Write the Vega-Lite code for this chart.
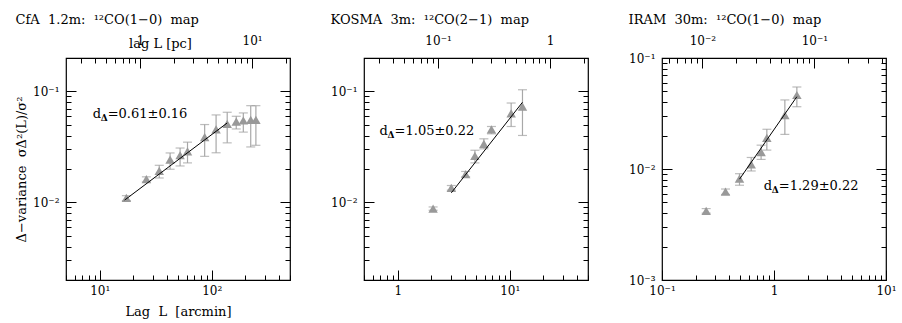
{
  "$schema": "https://vega.github.io/schema/vega-lite/v6.json",
  "background": "white",
  "padding": {"left": 14, "top": 13, "right": 5, "bottom": 5},
  "datasets": {
    "p1": [
      {"x": 17.3, "y": 0.0110, "lo": 0.0104, "hi": 0.0115},
      {"x": 26.1, "y": 0.0162, "lo": 0.0153, "hi": 0.0170},
      {"x": 34.0, "y": 0.0192, "lo": 0.0166, "hi": 0.0216},
      {"x": 42.5, "y": 0.0243, "lo": 0.0199, "hi": 0.0279},
      {"x": 52.2, "y": 0.0266, "lo": 0.0213, "hi": 0.0309},
      {"x": 60.8, "y": 0.0288, "lo": 0.0227, "hi": 0.0349},
      {"x": 86.5, "y": 0.0387, "lo": 0.0260, "hi": 0.0503},
      {"x": 109.4, "y": 0.0454, "lo": 0.0280, "hi": 0.0614},
      {"x": 137.5, "y": 0.0509, "lo": 0.0344, "hi": 0.0649},
      {"x": 165.6, "y": 0.0535, "lo": 0.0459, "hi": 0.0597},
      {"x": 191.5, "y": 0.0547, "lo": 0.0430, "hi": 0.0640},
      {"x": 223, "y": 0.0554, "lo": 0.0316, "hi": 0.0744},
      {"x": 248, "y": 0.0554, "lo": 0.0327, "hi": 0.0744}
    ],
    "l1": [{"x": 16.7, "y": 0.0105}, {"x": 137.5, "y": 0.052}],
    "a1": [{"x": 8.65, "y": 0.0622, "v": "=0.61±0.16"}],
    "p2": [
      {"x": 2.07, "y": 0.0088, "lo": 0.0085, "hi": 0.0091},
      {"x": 3.01, "y": 0.01355, "lo": 0.0129, "hi": 0.0142},
      {"x": 4.04, "y": 0.0180, "lo": 0.0170, "hi": 0.0190},
      {"x": 4.89, "y": 0.0262, "lo": 0.0227, "hi": 0.0295},
      {"x": 5.88, "y": 0.0337, "lo": 0.0304, "hi": 0.0374},
      {"x": 6.87, "y": 0.0454, "lo": 0.0415, "hi": 0.0483},
      {"x": 10.3, "y": 0.0635, "lo": 0.0483, "hi": 0.0786},
      {"x": 13.0, "y": 0.0729, "lo": 0.0401, "hi": 0.1035}
    ],
    "l2": [{"x": 3.01, "y": 0.0122}, {"x": 13.0, "y": 0.0798}],
    "a2": [{"x": 0.689, "y": 0.0444, "v": "=1.05±0.22"}],
    "p3": [
      {"x": 0.248, "y": 0.0042, "lo": 0.0040, "hi": 0.0044},
      {"x": 0.369, "y": 0.00625, "lo": 0.0059, "hi": 0.0066},
      {"x": 0.492, "y": 0.00818, "lo": 0.00714, "hi": 0.00907},
      {"x": 0.626, "y": 0.0110, "lo": 0.0096, "hi": 0.0127},
      {"x": 0.767, "y": 0.0142, "lo": 0.0122, "hi": 0.0164},
      {"x": 0.863, "y": 0.0191, "lo": 0.0148, "hi": 0.0228},
      {"x": 1.25, "y": 0.0306, "lo": 0.0205, "hi": 0.0419},
      {"x": 1.60, "y": 0.0464, "lo": 0.0364, "hi": 0.0548}
    ],
    "l3": [{"x": 0.492, "y": 0.0081}, {"x": 1.60, "y": 0.0448}],
    "a3": [{"x": 0.811, "y": 0.00703, "v": "=1.29±0.22"}]
  },
  "hconcat": [
    {
      "width": 224, "height": 222,
      "title": {"text": "CfA\u00a0 1.2m:\u00a0 ¹²CO(1−0)\u00a0 map", "anchor": "start", "offset": 2},
      "layer": [
        {
          "data": {"name": "p1"},
          "encoding": {
            "x": {"field": "x", "type": "quantitative", "scale": {"type": "log", "domain": [5, 500], "nice": false},
              "axis": {"orient": "bottom", "values": [5,6,7,8,9,10,20,30,40,50,60,70,80,90,100,200,300,400,500],
                "labelExpr": "abs(log(datum.value)/LN10 - round(log(datum.value)/LN10)) > 0.01 ? '' : round(log(datum.value)/LN10) == -3 ? '10⁻³' : round(log(datum.value)/LN10) == -2 ? '10⁻²' : round(log(datum.value)/LN10) == -1 ? '10⁻¹' : round(log(datum.value)/LN10) == 0 ? '1' : round(log(datum.value)/LN10) == 1 ? '10¹' : round(log(datum.value)/LN10) == 2 ? '10²' : ''",
                "tickSize": {"condition": {"test": "abs(log(datum.value)/LN10 - round(log(datum.value)/LN10)) < 0.01", "value": -10}, "value": -5},
                "labelPadding": 15, "title": "Lag\u00a0 L\u00a0 [arcmin]", "titlePadding": 4}},
            "y": {"field": "y", "type": "quantitative", "scale": {"type": "log", "domain": [0.002, 0.2], "nice": false},
              "axis": {"orient": "left", "values": [0.002,0.003,0.004,0.005,0.006,0.007,0.008,0.009,0.01,0.02,0.03,0.04,0.05,0.06,0.07,0.08,0.09,0.1,0.2],
                "labelExpr": "abs(log(datum.value)/LN10 - round(log(datum.value)/LN10)) > 0.01 ? '' : round(log(datum.value)/LN10) == -3 ? '10⁻³' : round(log(datum.value)/LN10) == -2 ? '10⁻²' : round(log(datum.value)/LN10) == -1 ? '10⁻¹' : round(log(datum.value)/LN10) == 0 ? '1' : round(log(datum.value)/LN10) == 1 ? '10¹' : round(log(datum.value)/LN10) == 2 ? '10²' : ''",
                "tickSize": {"condition": {"test": "abs(log(datum.value)/LN10 - round(log(datum.value)/LN10)) < 0.01", "value": -10}, "value": -5},
                "labelPadding": 17, "title": "Δ−variance\u00a0 σΔ²(L)/σ²", "titlePadding": 4}}
          },
          "layer": [
            {"mark": {"type": "rule", "color": "#a8a8a8", "strokeWidth": 1.2},
             "encoding": {"y": {"field": "lo", "type": "quantitative", "scale": {"type": "log", "domain": [0.002, 0.2], "nice": false}}, "y2": {"field": "hi"}}},
            {"mark": {"type": "tick", "orient": "horizontal", "color": "#a0a0a0", "size": 9, "thickness": 1.2},
             "encoding": {"y": {"field": "lo", "type": "quantitative", "scale": {"type": "log", "domain": [0.002, 0.2], "nice": false}}}},
            {"mark": {"type": "tick", "orient": "horizontal", "color": "#a0a0a0", "size": 9, "thickness": 1.2},
             "encoding": {"y": {"field": "hi", "type": "quantitative", "scale": {"type": "log", "domain": [0.002, 0.2], "nice": false}}}},
            {"mark": {"type": "point", "shape": "triangle-up", "filled": true, "color": "#999999", "size": 90, "opacity": 1}},
            {"data": {"name": "l1"}, "mark": {"type": "line", "color": "black", "strokeWidth": 1}},
            {"data": {"name": "a1"}, "mark": {"type": "text", "align": "left", "baseline": "middle", "fontSize": 13, "font": "DejaVu Serif", "color": "black"}, "encoding": {"text": {"value": "d"}}},
            {"data": {"name": "a1"}, "mark": {"type": "text", "align": "left", "baseline": "middle", "fontSize": 9, "font": "DejaVu Serif", "fontWeight": "bold", "color": "black", "dx": 8, "dy": 4}, "encoding": {"text": {"value": "Δ"}}},
            {"data": {"name": "a1"}, "mark": {"type": "text", "align": "left", "baseline": "middle", "fontSize": 13, "font": "DejaVu Serif", "color": "black", "dx": 15}, "encoding": {"text": {"field": "v"}}}
          ]
        },
        {
          "data": {"values": [{}]},
          "mark": {"type": "point", "opacity": 0},
          "encoding": {
            "x": {"datum": 1, "type": "quantitative", "scale": {"type": "log", "domain": [0.21815, 21.815], "nice": false},
              "axis": {"orient": "top", "values": [0.3,0.4,0.5,0.6,0.7,0.8,0.9,1,2,3,4,5,6,7,8,9,10,20],
                "labelExpr": "abs(log(datum.value)/LN10 - round(log(datum.value)/LN10)) > 0.01 ? '' : round(log(datum.value)/LN10) == -3 ? '10⁻³' : round(log(datum.value)/LN10) == -2 ? '10⁻²' : round(log(datum.value)/LN10) == -1 ? '10⁻¹' : round(log(datum.value)/LN10) == 0 ? '1' : round(log(datum.value)/LN10) == 1 ? '10¹' : round(log(datum.value)/LN10) == 2 ? '10²' : ''",
                "tickSize": {"condition": {"test": "abs(log(datum.value)/LN10 - round(log(datum.value)/LN10)) < 0.01", "value": -10}, "value": -5},
                "labelPadding": 21, "title": "lag L [pc]", "titleX": 94, "titleY": -15, "titleBaseline": "middle", "titleAlign": "center"}},
            "y": {"datum": 0.01, "type": "quantitative", "scale": {"type": "log", "domain": [0.002, 0.2], "nice": false},
              "axis": {"orient": "right", "values": [0.002,0.003,0.004,0.005,0.006,0.007,0.008,0.009,0.01,0.02,0.03,0.04,0.05,0.06,0.07,0.08,0.09,0.1,0.2],
                "labels": false, "title": null,
                "tickSize": {"condition": {"test": "abs(log(datum.value)/LN10 - round(log(datum.value)/LN10)) < 0.01", "value": -10}, "value": -5}}}
          }
        }
      ],
      "resolve": {"scale": {"x": "independent", "y": "independent"}, "axis": {"x": "independent", "y": "independent"}}
    },
    {
      "width": 224, "height": 222,
      "title": {"text": "KOSMA\u00a0 3m:\u00a0 ¹²CO(2−1)\u00a0 map", "anchor": "start", "offset": 2},
      "layer": [
        {
          "data": {"name": "p2"},
          "encoding": {
            "x": {"field": "x", "type": "quantitative", "scale": {"type": "log", "domain": [0.5, 50], "nice": false},
              "axis": {"orient": "bottom", "values": [0.5,0.6,0.7,0.8,0.9,1,2,3,4,5,6,7,8,9,10,20,30,40,50],
                "labelExpr": "abs(log(datum.value)/LN10 - round(log(datum.value)/LN10)) > 0.01 ? '' : round(log(datum.value)/LN10) == -3 ? '10⁻³' : round(log(datum.value)/LN10) == -2 ? '10⁻²' : round(log(datum.value)/LN10) == -1 ? '10⁻¹' : round(log(datum.value)/LN10) == 0 ? '1' : round(log(datum.value)/LN10) == 1 ? '10¹' : round(log(datum.value)/LN10) == 2 ? '10²' : ''",
                "tickSize": {"condition": {"test": "abs(log(datum.value)/LN10 - round(log(datum.value)/LN10)) < 0.01", "value": -10}, "value": -5},
                "labelPadding": 15, "title": null}},
            "y": {"field": "y", "type": "quantitative", "scale": {"type": "log", "domain": [0.002, 0.2], "nice": false},
              "axis": {"orient": "left", "values": [0.002,0.003,0.004,0.005,0.006,0.007,0.008,0.009,0.01,0.02,0.03,0.04,0.05,0.06,0.07,0.08,0.09,0.1,0.2],
                "labelExpr": "abs(log(datum.value)/LN10 - round(log(datum.value)/LN10)) > 0.01 ? '' : round(log(datum.value)/LN10) == -3 ? '10⁻³' : round(log(datum.value)/LN10) == -2 ? '10⁻²' : round(log(datum.value)/LN10) == -1 ? '10⁻¹' : round(log(datum.value)/LN10) == 0 ? '1' : round(log(datum.value)/LN10) == 1 ? '10¹' : round(log(datum.value)/LN10) == 2 ? '10²' : ''",
                "tickSize": {"condition": {"test": "abs(log(datum.value)/LN10 - round(log(datum.value)/LN10)) < 0.01", "value": -10}, "value": -5},
                "labelPadding": 17, "title": null}}
          },
          "layer": [
            {"mark": {"type": "rule", "color": "#a8a8a8", "strokeWidth": 1.2},
             "encoding": {"y": {"field": "lo", "type": "quantitative", "scale": {"type": "log", "domain": [0.002, 0.2], "nice": false}}, "y2": {"field": "hi"}}},
            {"mark": {"type": "tick", "orient": "horizontal", "color": "#a0a0a0", "size": 9, "thickness": 1.2},
             "encoding": {"y": {"field": "lo", "type": "quantitative", "scale": {"type": "log", "domain": [0.002, 0.2], "nice": false}}}},
            {"mark": {"type": "tick", "orient": "horizontal", "color": "#a0a0a0", "size": 9, "thickness": 1.2},
             "encoding": {"y": {"field": "hi", "type": "quantitative", "scale": {"type": "log", "domain": [0.002, 0.2], "nice": false}}}},
            {"mark": {"type": "point", "shape": "triangle-up", "filled": true, "color": "#999999", "size": 90, "opacity": 1}},
            {"data": {"name": "l2"}, "mark": {"type": "line", "color": "black", "strokeWidth": 1}},
            {"data": {"name": "a2"}, "mark": {"type": "text", "align": "left", "baseline": "middle", "fontSize": 13, "font": "DejaVu Serif", "color": "black"}, "encoding": {"text": {"value": "d"}}},
            {"data": {"name": "a2"}, "mark": {"type": "text", "align": "left", "baseline": "middle", "fontSize": 9, "font": "DejaVu Serif", "fontWeight": "bold", "color": "black", "dx": 8, "dy": 4}, "encoding": {"text": {"value": "Δ"}}},
            {"data": {"name": "a2"}, "mark": {"type": "text", "align": "left", "baseline": "middle", "fontSize": 13, "font": "DejaVu Serif", "color": "black", "dx": 15}, "encoding": {"text": {"field": "v"}}}
          ]
        },
        {
          "data": {"values": [{}]},
          "mark": {"type": "point", "opacity": 0},
          "encoding": {
            "x": {"datum": 0.1, "type": "quantitative", "scale": {"type": "log", "domain": [0.021815, 2.1815], "nice": false},
              "axis": {"orient": "top", "values": [0.03,0.04,0.05,0.06,0.07,0.08,0.09,0.1,0.2,0.3,0.4,0.5,0.6,0.7,0.8,0.9,1,2],
                "labelExpr": "abs(log(datum.value)/LN10 - round(log(datum.value)/LN10)) > 0.01 ? '' : round(log(datum.value)/LN10) == -3 ? '10⁻³' : round(log(datum.value)/LN10) == -2 ? '10⁻²' : round(log(datum.value)/LN10) == -1 ? '10⁻¹' : round(log(datum.value)/LN10) == 0 ? '1' : round(log(datum.value)/LN10) == 1 ? '10¹' : round(log(datum.value)/LN10) == 2 ? '10²' : ''",
                "tickSize": {"condition": {"test": "abs(log(datum.value)/LN10 - round(log(datum.value)/LN10)) < 0.01", "value": -10}, "value": -5},
                "labelPadding": 21, "title": null}},
            "y": {"datum": 0.01, "type": "quantitative", "scale": {"type": "log", "domain": [0.002, 0.2], "nice": false},
              "axis": {"orient": "right", "values": [0.002,0.003,0.004,0.005,0.006,0.007,0.008,0.009,0.01,0.02,0.03,0.04,0.05,0.06,0.07,0.08,0.09,0.1,0.2],
                "labels": false, "title": null,
                "tickSize": {"condition": {"test": "abs(log(datum.value)/LN10 - round(log(datum.value)/LN10)) < 0.01", "value": -10}, "value": -5}}}
          }
        }
      ],
      "resolve": {"scale": {"x": "independent", "y": "independent"}, "axis": {"x": "independent", "y": "independent"}}
    },
    {
      "width": 224, "height": 222,
      "title": {"text": "IRAM\u00a0 30m:\u00a0 ¹²CO(1−0)\u00a0 map", "anchor": "start", "offset": 2},
      "layer": [
        {
          "data": {"name": "p3"},
          "encoding": {
            "x": {"field": "x", "type": "quantitative", "scale": {"type": "log", "domain": [0.1, 10], "nice": false},
              "axis": {"orient": "bottom", "values": [0.1,0.2,0.3,0.4,0.5,0.6,0.7,0.8,0.9,1,2,3,4,5,6,7,8,9,10],
                "labelExpr": "abs(log(datum.value)/LN10 - round(log(datum.value)/LN10)) > 0.01 ? '' : round(log(datum.value)/LN10) == -3 ? '10⁻³' : round(log(datum.value)/LN10) == -2 ? '10⁻²' : round(log(datum.value)/LN10) == -1 ? '10⁻¹' : round(log(datum.value)/LN10) == 0 ? '1' : round(log(datum.value)/LN10) == 1 ? '10¹' : round(log(datum.value)/LN10) == 2 ? '10²' : ''",
                "tickSize": {"condition": {"test": "abs(log(datum.value)/LN10 - round(log(datum.value)/LN10)) < 0.01", "value": -10}, "value": -5},
                "labelPadding": 15, "title": null}},
            "y": {"field": "y", "type": "quantitative", "scale": {"type": "log", "domain": [0.001, 0.1], "nice": false},
              "axis": {"orient": "left", "values": [0.001,0.002,0.003,0.004,0.005,0.006,0.007,0.008,0.009,0.01,0.02,0.03,0.04,0.05,0.06,0.07,0.08,0.09,0.1],
                "labelExpr": "abs(log(datum.value)/LN10 - round(log(datum.value)/LN10)) > 0.01 ? '' : round(log(datum.value)/LN10) == -3 ? '10⁻³' : round(log(datum.value)/LN10) == -2 ? '10⁻²' : round(log(datum.value)/LN10) == -1 ? '10⁻¹' : round(log(datum.value)/LN10) == 0 ? '1' : round(log(datum.value)/LN10) == 1 ? '10¹' : round(log(datum.value)/LN10) == 2 ? '10²' : ''",
                "tickSize": {"condition": {"test": "abs(log(datum.value)/LN10 - round(log(datum.value)/LN10)) < 0.01", "value": -10}, "value": -5},
                "labelPadding": 17, "title": null}}
          },
          "layer": [
            {"mark": {"type": "rule", "color": "#a8a8a8", "strokeWidth": 1.2},
             "encoding": {"y": {"field": "lo", "type": "quantitative", "scale": {"type": "log", "domain": [0.001, 0.1], "nice": false}}, "y2": {"field": "hi"}}},
            {"mark": {"type": "tick", "orient": "horizontal", "color": "#a0a0a0", "size": 9, "thickness": 1.2},
             "encoding": {"y": {"field": "lo", "type": "quantitative", "scale": {"type": "log", "domain": [0.001, 0.1], "nice": false}}}},
            {"mark": {"type": "tick", "orient": "horizontal", "color": "#a0a0a0", "size": 9, "thickness": 1.2},
             "encoding": {"y": {"field": "hi", "type": "quantitative", "scale": {"type": "log", "domain": [0.001, 0.1], "nice": false}}}},
            {"mark": {"type": "point", "shape": "triangle-up", "filled": true, "color": "#999999", "size": 90, "opacity": 1}},
            {"data": {"name": "l3"}, "mark": {"type": "line", "color": "black", "strokeWidth": 1}},
            {"data": {"name": "a3"}, "mark": {"type": "text", "align": "left", "baseline": "middle", "fontSize": 13, "font": "DejaVu Serif", "color": "black"}, "encoding": {"text": {"value": "d"}}},
            {"data": {"name": "a3"}, "mark": {"type": "text", "align": "left", "baseline": "middle", "fontSize": 9, "font": "DejaVu Serif", "fontWeight": "bold", "color": "black", "dx": 8, "dy": 4}, "encoding": {"text": {"value": "Δ"}}},
            {"data": {"name": "a3"}, "mark": {"type": "text", "align": "left", "baseline": "middle", "fontSize": 13, "font": "DejaVu Serif", "color": "black", "dx": 15}, "encoding": {"text": {"field": "v"}}}
          ]
        },
        {
          "data": {"values": [{}]},
          "mark": {"type": "point", "opacity": 0},
          "encoding": {
            "x": {"datum": 0.1, "type": "quantitative", "scale": {"type": "log", "domain": [0.004363, 0.4363], "nice": false},
              "axis": {"orient": "top", "values": [0.005,0.006,0.007,0.008,0.009,0.01,0.02,0.03,0.04,0.05,0.06,0.07,0.08,0.09,0.1,0.2,0.3,0.4],
                "labelExpr": "abs(log(datum.value)/LN10 - round(log(datum.value)/LN10)) > 0.01 ? '' : round(log(datum.value)/LN10) == -3 ? '10⁻³' : round(log(datum.value)/LN10) == -2 ? '10⁻²' : round(log(datum.value)/LN10) == -1 ? '10⁻¹' : round(log(datum.value)/LN10) == 0 ? '1' : round(log(datum.value)/LN10) == 1 ? '10¹' : round(log(datum.value)/LN10) == 2 ? '10²' : ''",
                "tickSize": {"condition": {"test": "abs(log(datum.value)/LN10 - round(log(datum.value)/LN10)) < 0.01", "value": -10}, "value": -5},
                "labelPadding": 21, "title": null}},
            "y": {"datum": 0.01, "type": "quantitative", "scale": {"type": "log", "domain": [0.001, 0.1], "nice": false},
              "axis": {"orient": "right", "values": [0.001,0.002,0.003,0.004,0.005,0.006,0.007,0.008,0.009,0.01,0.02,0.03,0.04,0.05,0.06,0.07,0.08,0.09,0.1],
                "labels": false, "title": null,
                "tickSize": {"condition": {"test": "abs(log(datum.value)/LN10 - round(log(datum.value)/LN10)) < 0.01", "value": -10}, "value": -5}}}
          }
        }
      ],
      "resolve": {"scale": {"x": "independent", "y": "independent"}, "axis": {"x": "independent", "y": "independent"}}
    }
  ],
  "spacing": 74,
  "bounds": "flush",
  "config": {
    "font": "DejaVu Serif",
    "view": {"stroke": "black", "strokeWidth": 1.2},
    "axis": {"domain": false, "grid": false, "tickColor": "black", "tickWidth": 1, "labelFont": "DejaVu Serif", "labelFontSize": 12, "labelColor": "black", "titleFont": "DejaVu Serif", "titleFontSize": 13, "titleFontWeight": "normal", "titleColor": "black", "labelFlush": false, "labelOverlap": false, "labelBound": false},
    "title": {"font": "DejaVu Serif", "fontSize": 13, "fontWeight": "normal", "color": "black"}
  }
}
